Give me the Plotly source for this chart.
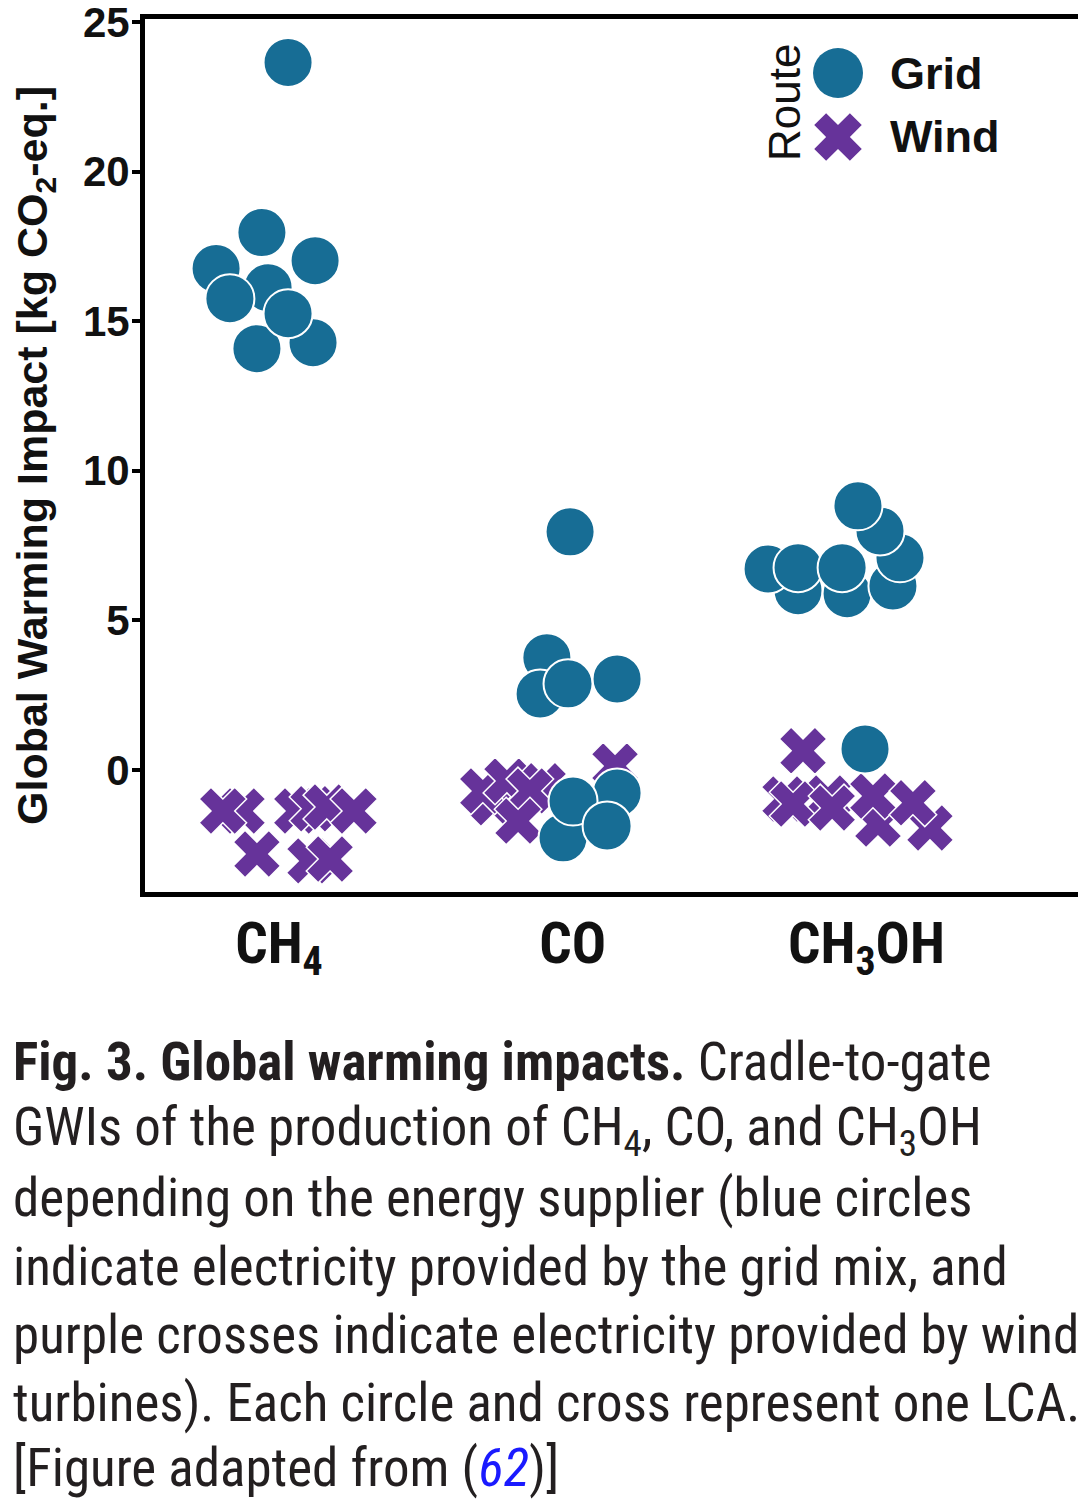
import numpy as np
import plotly.graph_objects as go

# categories on the x axis
categories = ["CH<sub>4</sub>", "CO", "CH<sub>3</sub>OH"]

# grid route: category index, horizontal jitter (category units), GWI
grid_cat = [0, 0, 0, 0, 0, 0, 0, 0, 0,
            1, 1, 1, 1, 1, 1, 1, 1, 1,
            2, 2, 2, 2, 2, 2, 2, 2, 2, 2]
grid_jitter = [-0.075, 0.116, -0.214, 0.123, -0.037, -0.167, 0.031, -0.058, 0.031,
               -0.009, -0.088, -0.111, -0.016, 0.151, -0.033, 0.151, 0.001, 0.117,
               -0.233, -0.066, -0.335, -0.233, -0.083, 0.090, 0.114, 0.046, -0.029, -0.005]
grid_gwi = [14.08, 14.28, 16.76, 17.02, 16.12, 15.75, 15.25, 17.96, 23.65,
            7.96, 3.75, 2.54, 2.88, 3.04, -2.27, -0.77, -1.04, -1.87,
            5.99, 5.89, 6.72, 6.76, 6.76, 6.15, 7.09, 7.99, 8.83, 0.70]

# wind route
wind_cat = [0, 0, 0, 0, 0, 0, 0, 0, 0,
            1, 1, 1, 1, 1, 1, 1,
            2, 2, 2, 2, 2, 2, 2, 2, 2]
wind_jitter = [-0.126, -0.191, 0.061, 0.116, 0.163, 0.255, -0.075, 0.106, 0.174,
               -0.272, -0.306, -0.224, -0.101, -0.146, -0.186, 0.144,
               -0.277, -0.131, -0.216, -0.250, -0.117, 0.039, 0.022, 0.216, 0.158]
wind_gwi = [-1.37, -1.37, -1.37, -1.30, -1.24, -1.37, -2.81, -3.04, -2.98,
            -1.10, -0.70, -0.37, -0.53, -0.70, -1.71, 0.13,
            -0.97, -0.94, 0.64, -1.14, -1.27, -1.81, -0.87, -1.94, -1.10]

y_ticks = [0, 5, 10, 15, 20, 25]

caption_lines = [
    "<b>Fig. 3. Global warming impacts.</b> Cradle-to-gate",
    "GWIs of the production of CH<sub>4</sub>, CO, and CH<sub>3</sub>OH",
    "depending on the energy supplier (blue circles",
    "indicate electricity provided by the grid mix, and",
    "purple crosses indicate electricity provided by wind",
    "turbines). Each circle and cross represent one LCA.",
    "[Figure adapted from (<span style='color:#1a1aff'><i>62</i></span>)]",
]
caption_y = [1062, 1130, 1198, 1267, 1335, 1403, 1468]

BLUE = "#176d95"
PURPLE = "#66339a"
SANS = "Liberation Sans, Arial, sans-serif"
NARROW = "Liberation Sans Narrow, Roboto Condensed, DejaVu Sans Condensed, sans-serif"

# the page body adds an 8px margin, so the figure is laid out 8px smaller
OFF = 8
W, H = 1086 - OFF, 1501 - OFF
L, R, T = 145 - OFF, 3, 19 - OFF
B = H - (892 - OFF)
plot_w = W - L - R
plot_h = H - T - B


def px_x(px):
    return (px - OFF - L) / plot_w


def px_y(py):
    return (H - B - (py - OFF)) / plot_h


fig = go.Figure()
fig.add_trace(go.Scatter(
    x=np.array(wind_cat) + np.array(wind_jitter), y=wind_gwi,
    mode="markers", name="Wind",
    marker=dict(symbol="x", size=42, color=PURPLE, line=dict(color="white", width=1.5)),
))
fig.add_trace(go.Scatter(
    x=np.array(grid_cat) + np.array(grid_jitter), y=grid_gwi,
    mode="markers", name="Grid",
    marker=dict(symbol="circle", size=49, color=BLUE, line=dict(color="white", width=2)),
))

fig.update_xaxes(
    range=[-0.456, 2.737], tickvals=[0, 1, 2], ticktext=categories,
    showline=True, linewidth=5, linecolor="black", mirror=True,
    showgrid=False, zeroline=False, ticks="", automargin=False,
    tickfont=dict(family=NARROW, size=57, color="#111", weight="bold"),
    ticklabelstandoff=-2,
)
fig.update_yaxes(
    range=[-4.08, 25.1], tickvals=y_ticks,
    showline=True, linewidth=5, linecolor="black", mirror=True,
    showgrid=False, zeroline=False, automargin=False,
    ticks="outside", ticklen=8, tickwidth=4, tickcolor="black",
    tickfont=dict(family=SANS, size=42, color="#111", weight="bold"),
    ticklabelstandoff=-6, ticklabeloverflow="allow",
    title=dict(text="<b>Global Warming Impact [kg CO<sub>2</sub>-eq.]</b>",
               font=dict(family=SANS, size=43, color="#111"), standoff=26),
)

# legend drawn by hand so the glyphs match the marker sizes
rx = 0.8 * 21 / np.sqrt(2)
cross = (f"M0,{rx} L{rx},{2*rx} L{2*rx},{rx} L{rx},0 L{2*rx},{-rx} L{rx},{-2*rx} "
         f"L0,{-rx} L{-rx},{-2*rx} L{-2*rx},{-rx} L{-rx},0 L{-2*rx},{rx} L{-rx},{2*rx} Z")
fig.add_shape(type="circle", xref="paper", yref="paper", xsizemode="pixel", ysizemode="pixel",
              xanchor=px_x(838), yanchor=px_y(73), x0=-25, x1=25, y0=-25, y1=25,
              fillcolor=BLUE, line=dict(width=0))
fig.add_shape(type="path", xref="paper", yref="paper", xsizemode="pixel", ysizemode="pixel",
              xanchor=px_x(838), yanchor=px_y(137), path=cross,
              fillcolor=PURPLE, line=dict(width=0))
fig.add_annotation(x=px_x(785), y=px_y(103), xref="paper", yref="paper", text="Route",
                   textangle=-90, showarrow=False, xanchor="center", yanchor="middle",
                   font=dict(family=SANS, size=44, color="#111"))
for label, py in [("Grid", 73), ("Wind", 137)]:
    fig.add_annotation(x=px_x(888), y=px_y(py), xref="paper", yref="paper", text=f"<b>{label}</b>",
                       xanchor="left", yanchor="middle", showarrow=False,
                       font=dict(family=SANS, size=45, color="#111"))

# caption, one annotation per printed line
for line, py in zip(caption_lines, caption_y):
    fig.add_annotation(x=px_x(12), y=px_y(py), xref="paper", yref="paper",
                       text=line, xanchor="left", yanchor="middle", showarrow=False,
                       borderpad=0, font=dict(family=NARROW, size=53, color="#231f20"))

fig.update_layout(
    width=W, height=H, margin=dict(l=L, r=R, t=T, b=B),
    plot_bgcolor="white", paper_bgcolor="white", showlegend=False,
)

fig.write_html("out.html")
